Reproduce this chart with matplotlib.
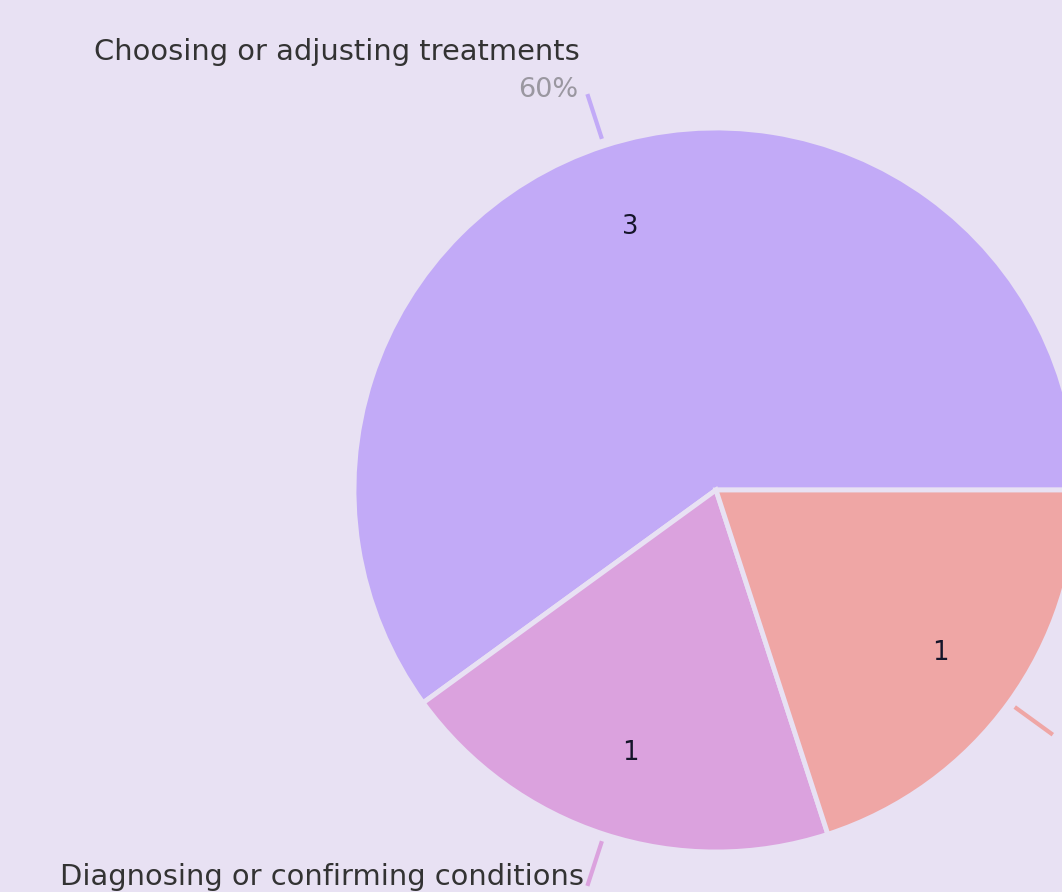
import numpy as np
import matplotlib
matplotlib.use("Agg")
import matplotlib.pyplot as plt

categories = ["Choosing or adjusting treatments", "Diagnosing or confirming conditions", "Monitoring patient progress"]
values = [3, 1, 1]
colors = ["#C2AAF7", "#DBA2DE", "#EFA6A5"]
bg = "#E8E1F3"

W, H = 1062, 892
cx, cy, R = 716, 490, 362

fig = plt.figure(figsize=(W / 100, H / 100), dpi=100, facecolor=bg)
ax = fig.add_axes([0, 0, 1, 1])
ax.set_facecolor(bg)

font = "DejaVu Sans"
wedges, _ = ax.pie(values, colors=colors, startangle=0, counterclock=True, radius=1.0,
                   wedgeprops=dict(edgecolor=bg, linewidth=3.5))
ax.set_aspect("auto")
x0, x1 = -cx / R, (W - cx) / R
y0, y1 = -(H - cy) / R, cy / R
ax.set_xlim(x0, x1)
ax.set_ylim(y0, y1)
ax.axis("off")

total = sum(values)
for w, v, cat, col in zip(wedges, values, categories, colors):
    mid = np.deg2rad((w.theta1 + w.theta2) / 2)
    c, s = np.cos(mid), np.sin(mid)
    ax.text(0.765 * c, 0.765 * s, str(v), ha="center", va="center", fontsize=18.5,
            color="#15152a", family=font)
    ax.plot([1.02 * c, 1.15 * c], [1.02 * s, 1.15 * s], color=col, lw=3, solid_capstyle="butt")
    ex, ey = 1.15 * c, 1.15 * s
    if c > 0:
        continue  # label lies beyond the right edge of the view
    tx = ex - 0.025
    pct = f"{v / total * 100:.0f}%"
    if s > 0:
        ax.text(tx, ey + 0.012, pct, ha="right", va="center", fontsize=19.5, color="#9a97a0", family=font)
        ax.text(tx + 0.003, ey + 0.115, cat, ha="right", va="center", fontsize=20.8, color="#333333", family=font)
    else:
        ax.text(tx + 0.015, ey + 0.025, cat, ha="right", va="center", fontsize=20.8, color="#333333", family=font)

fig.savefig("out.png", dpi=100, facecolor=bg)
